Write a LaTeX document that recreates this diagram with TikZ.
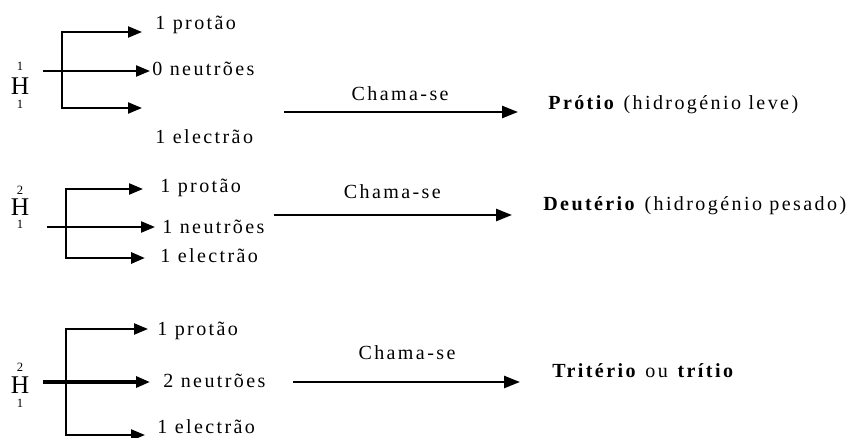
\documentclass[tikz,border=0pt]{standalone}
\usepackage{fontspec}
\setmainfont{Liberation Serif}[LetterSpace=12]
\usetikzlibrary{calc, arrows.meta}
\newcommand{\corpo}{\fontsize{11.4}{13}\selectfont}
\tikzstyle{every node}=[font=\corpo, inner sep=0pt]
\tikzstyle{texto}=[anchor=base west]
\tikzstyle{elem}=[font=\fontsize{14.5}{15}\selectfont]
\tikzstyle{num}=[font=\fontsize{7.2}{8}\selectfont]
\tikzstyle{ramo}=[line width=1.2pt, line cap=rect]
\tikzstyle{seta}=[-{Triangle[length=0.28cm, width=0.22cm]}, line width=1.3pt]
\tikzstyle{chama}=[-{Triangle[length=0.32cm, width=0.24cm]}, line width=1.4pt]

\begin{document}
\begin{tikzpicture}
	\useasboundingbox (0,0) rectangle (17.12,8.74);
	
	% hidrogenio 1
	\node[elem] (h1) at (0.40,7.02) {H};
	\node[num] (z1) at (0.40,7.42) {1};
	\node[num] (w1) at (0.40,6.66) {1};
	
	\coordinate (k1) at (1.24,8.10);
	\coordinate (l1) at (1.24,6.58);
	\coordinate (s1) at (0.86,7.32);
	\coordinate (a1) at (2.84,8.10);
	\coordinate (m1) at (3.00,7.32);
	\coordinate (b1) at (2.84,6.58);
	\coordinate (c1) at (5.68,6.50);
	
	\node[texto] (p1) at (3.10,8.14) {1 protão};
	\node[texto] (n1) at (3.04,7.22) {0 neutrões};
	\node[texto] (e1) at (3.10,5.88) {1 electrão};
	\node[texto] (nome1) at (10.96,6.54) {\textbf{Prótio} (hidrogénio leve)};
	
	\draw[ramo] (k1) -- (l1);
	\draw[seta] (k1) -- (a1);
	\draw[seta] (s1) -- (m1);
	\draw[seta] (l1) -- (b1);
	\draw[chama, shorten >=0.60cm] (c1) -- (c1 -| nome1.west) node[pos=0.44, above=0.20cm] (ch1) {Chama-se};
	
	% hidrogenio 2
	\node[elem] (h2) at (0.40,4.60) {H};
	\node[num] (z2) at (0.40,4.94) {2};
	\node[num] (w2) at (0.40,4.26) {1};
	
	\coordinate (k2) at (1.32,4.96);
	\coordinate (l2) at (1.32,3.58);
	\coordinate (s2) at (0.94,4.20);
	\coordinate (a2) at (2.86,4.96);
	\coordinate (m2) at (3.10,4.20);
	\coordinate (b2) at (2.90,3.58);
	\coordinate (c2) at (5.48,4.44);
	
	\node[texto] (p2) at (3.20,4.90) {1 protão};
	\node[texto] (n2) at (3.24,4.08) {1 neutrões};
	\node[texto] (e2) at (3.20,3.50) {1 electrão};
	\node[texto] (nome2) at (10.86,4.54) {\textbf{Deutério} (hidrogénio pesado)};
	
	\draw[ramo] (k2) -- (l2);
	\draw[seta] (k2) -- (a2);
	\draw[seta] (s2) -- (m2);
	\draw[seta, line width=1.7pt] (l2) -- (b2);
	\draw[chama, shorten >=0.62cm] (c2) -- (c2 -| nome2.west) node[pos=0.44, above=0.30cm] (ch2) {Chama-se};
	
	% hidrogenio 3
	\node[elem] (h3) at (0.40,1.04) {H};
	\node[num] (z3) at (0.40,1.40) {2};
	\node[num] (w3) at (0.40,0.68) {1};
	
	\coordinate (k3) at (1.32,2.16);
	\coordinate (l3) at (1.32,0.04);
	\coordinate (s3) at (0.86,1.10);
	\coordinate (a3) at (2.96,2.16);
	\coordinate (m3) at (3.00,1.10);
	\coordinate (b3) at (2.90,0.04);
	\coordinate (c3) at (5.86,1.10);
	
	\node[texto] (p3) at (3.14,2.04) {1 protão};
	\node[texto] (n3) at (3.26,1.00) {2 neutrões};
	\node[texto] (e3) at (3.14,0.08) {1 electrão};
	\node[texto] (nome3) at (11.04,1.20) {\textbf{Tritério} ou \textbf{trítio}};
	
	\draw[ramo, line width=0.6pt] (k3) -- (l3);
	\draw[seta] (k3) -- (a3);
	\draw[seta, line width=1.8pt] (s3) -- (m3);
	\draw[seta] (l3) -- (b3);
	\draw[chama, shorten >=0.64cm] (c3) -- (c3 -| nome3.west) node[pos=0.44, above=0.42cm] (ch3) {Chama-se};
\end{tikzpicture}
\end{document}
